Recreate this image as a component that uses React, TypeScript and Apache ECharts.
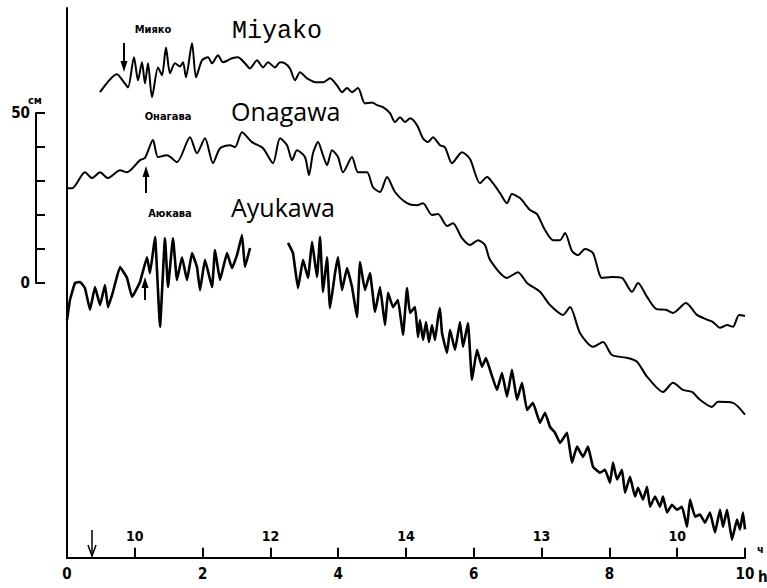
import React, { useEffect, useRef } from "react";
import * as echarts from "echarts";

// hours since start, sea level in cm (relative to the 50 cm scale bar)
const miyako: [number, number][] = [
  [0.487, 56.2], [0.737, 61.5], [0.841, 59.1], [0.9, 57.6], [0.988, 66.5], [1.047, 59.7], [1.106, 65.0],
  [1.15, 58.8], [1.195, 64.7], [1.254, 54.7], [1.342, 63.5], [1.401, 61.2], [1.46, 69.4], [1.519, 61.8],
  [1.593, 64.7], [1.667, 63.8], [1.711, 65.0], [1.755, 60.6], [1.844, 70.6], [1.903, 60.6], [1.991, 65.6],
  [2.08, 66.5], [2.139, 64.7], [2.227, 67.1], [2.301, 65.0], [2.375, 65.6], [2.434, 66.2], [2.522, 66.5],
  [2.625, 64.7], [2.699, 63.2], [2.802, 65.6], [2.891, 63.5], [2.965, 65.0], [3.068, 63.5], [3.142, 65.0],
  [3.215, 64.7], [3.289, 63.2], [3.363, 59.7], [3.437, 62.1], [3.54, 60.3], [3.687, 59.1], [3.776, 59.1],
  [3.879, 60.3], [3.982, 58.2], [4.056, 56.2], [4.13, 57.4], [4.204, 56.2], [4.292, 57.4], [4.395, 52.9],
  [4.499, 53.2], [4.572, 52.4], [4.661, 51.8], [4.764, 50.0], [4.838, 47.4], [4.912, 48.8], [4.985, 47.4],
  [5.059, 48.5], [5.162, 46.5], [5.251, 42.6], [5.324, 41.5], [5.398, 42.9], [5.501, 40.6], [5.575, 40.0],
  [5.678, 35.3], [5.826, 38.5], [5.944, 36.5], [6.091, 29.4], [6.195, 31.2], [6.283, 29.4], [6.386, 26.5],
  [6.49, 23.5], [6.563, 26.2], [6.681, 25.0], [6.829, 21.5], [6.932, 20.3], [7.05, 15.6], [7.168, 12.6],
  [7.271, 12.6], [7.345, 14.7], [7.448, 9.4], [7.537, 8.2], [7.64, 10.0], [7.758, 8.8], [7.891, 1.5],
  [8.038, 1.8], [8.186, 1.5], [8.333, -2.6], [8.422, 0], [8.555, -4.1], [8.687, -7.6], [8.835, -7.9],
  [8.938, -8.8], [9.13, -5.9], [9.292, -9.4], [9.454, -10.9], [9.528, -11.5], [9.631, -13.2], [9.735, -12.4],
  [9.823, -12.9], [9.912, -9.4], [10.0, -9.7],
];

const onagawa: [number, number][] = [
  [0.0, 27.9], [0.074, 27.9], [0.265, 32.6], [0.369, 30.9], [0.487, 32.6], [0.605, 30.9], [0.782, 33.2],
  [0.885, 32.6], [1.077, 36.2], [1.15, 36.8], [1.268, 42.1], [1.342, 37.1], [1.475, 37.6], [1.622, 35.6],
  [1.814, 42.9], [1.917, 38.2], [2.035, 42.6], [2.153, 35.3], [2.257, 39.7], [2.404, 40.6], [2.478, 40.0],
  [2.581, 44.4], [2.729, 41.5], [2.891, 39.7], [3.038, 35.3], [3.142, 42.6], [3.245, 40.6], [3.319, 36.2],
  [3.392, 39.1], [3.51, 37.1], [3.569, 31.8], [3.628, 38.2], [3.702, 41.5], [3.776, 37.6], [3.835, 34.7],
  [3.909, 39.1], [3.997, 37.1], [4.071, 32.6], [4.204, 37.1], [4.292, 32.6], [4.425, 32.6], [4.513, 28.2],
  [4.617, 26.8], [4.72, 31.2], [4.838, 26.8], [5.015, 23.5], [5.162, 22.9], [5.251, 23.5], [5.383, 20.0],
  [5.472, 20.3], [5.605, 16.8], [5.693, 17.6], [5.826, 13.2], [5.944, 11.2], [6.062, 12.6], [6.165, 11.2],
  [6.239, 6.8], [6.49, 1.5], [6.652, 3.2], [6.785, 0], [6.976, -2.6], [7.124, -6.5], [7.316, -9.4],
  [7.419, -7.1], [7.566, -14.7], [7.758, -18.8], [7.906, -17.4], [8.038, -21.2], [8.274, -22.1],
  [8.407, -23.2], [8.555, -27.6], [8.791, -32.1], [8.938, -29.4], [9.086, -31.5], [9.218, -32.1],
  [9.336, -34.4], [9.513, -36.5], [9.602, -35.0], [9.823, -35.3], [10.0, -38.8],
];

const ayukawaA: [number, number][] = [
  [0.0, -10.9], [0.044, -5.0], [0.118, 0], [0.192, 0.3], [0.265, -1.5], [0.339, -7.9], [0.413, -1.2],
  [0.487, -6.5], [0.56, -0.6], [0.605, -7.1], [0.678, -2.6], [0.782, 4.7], [0.885, 1.5], [0.959, -4.1],
  [1.077, 0.3], [1.18, 7.6], [1.224, 2.9], [1.298, 13.5], [1.372, -12.9], [1.445, 13.2], [1.49, -1.2],
  [1.563, 13.2], [1.622, 0.9], [1.696, 7.6], [1.77, 0.9], [1.844, 8.8], [1.917, 4.7], [1.962, -2.1],
  [2.035, 6.8], [2.139, -1.2], [2.183, 9.7], [2.257, 0.9], [2.36, 8.8], [2.434, 4.4], [2.507, 8.2],
  [2.581, 14.1], [2.625, 4.7], [2.699, 10.3],
];

const ayukawaB: [number, number][] = [
  [3.26, 11.8], [3.333, 8.8], [3.407, -1.5], [3.481, 6.8], [3.555, 1.5], [3.614, 12.1], [3.687, 1.8],
  [3.732, 13.5], [3.776, -2.6], [3.835, 7.6], [3.879, -7.4], [3.953, 2.9], [3.997, 7.6], [4.056, -2.1],
  [4.13, 4.4], [4.204, -1.2], [4.277, -10.0], [4.322, 6.2], [4.395, -2.1], [4.469, 2.9], [4.543, -8.5],
  [4.617, -1.2], [4.69, -12.4], [4.735, -2.9], [4.808, -7.1], [4.882, -5.0], [4.956, -15.3], [5.015, -1.5],
  [5.059, -8.8], [5.133, -7.1], [5.177, -15.9], [5.206, -10.9], [5.251, -16.8], [5.295, -11.5],
  [5.339, -17.4], [5.383, -12.4], [5.428, -16.8], [5.472, -10.3], [5.501, -7.4], [5.531, -14.7],
  [5.605, -20.6], [5.649, -13.8], [5.723, -19.7], [5.796, -11.5], [5.841, -18.8], [5.914, -11.8],
  [5.973, -28.5], [6.047, -19.7], [6.121, -24.7], [6.18, -22.1], [6.239, -25.6], [6.342, -31.5],
  [6.416, -26.5], [6.49, -33.5], [6.563, -25.6], [6.637, -34.4], [6.711, -29.4], [6.785, -37.4],
  [6.873, -35.3], [6.976, -41.2], [7.05, -38.2], [7.124, -42.4], [7.198, -44.1], [7.271, -47.1],
  [7.375, -44.1], [7.448, -52.9], [7.522, -48.2], [7.611, -51.2], [7.684, -48.2], [7.758, -54.1],
  [7.861, -55.9], [7.935, -55.0], [8.009, -58.8], [8.053, -52.9], [8.112, -57.9], [8.186, -55.0],
  [8.23, -61.8], [8.304, -57.1], [8.378, -62.9], [8.422, -60.3], [8.496, -63.8], [8.555, -60.0],
  [8.599, -65.9], [8.673, -62.9], [8.746, -65.9], [8.791, -62.9], [8.85, -67.6], [8.923, -65.3],
  [8.997, -66.8], [9.071, -65.9], [9.145, -71.8], [9.189, -63.8], [9.263, -68.8], [9.336, -68.2],
  [9.41, -70.6], [9.484, -67.6], [9.558, -73.5], [9.631, -66.8], [9.676, -71.8], [9.735, -66.8],
  [9.808, -75.6], [9.882, -69.7], [9.926, -72.6], [9.971, -67.6], [10.0, -72.6],
];

// hour ticks on the time axis and clock-hour labels above the odd ones
const tickHours: number[] = [1, 2, 3, 4, 5, 6, 7, 8, 9, 10];
const tickTop = -78.0;
const hourMarks: number[] = [1, 3, 5, 7, 9];
const hourLabels: string[] = ["10", "12", "14", "13", "10"];
const hourLabelLevel = -74.5;
const Y_MIN = -81;

const COND = "'DejaVu Sans Condensed', 'DejaVu Sans', sans-serif";

export default function App() {
  const ref = useRef<HTMLDivElement>(null);
  useEffect(() => {
    if (!ref.current) return;
    const chart = echarts.init(ref.current, undefined, { renderer: "svg" });
    const lineStyle = (w: number) => ({ color: "#000", width: w });
    const txt = (x: number, y: number, text: string, font: string, size: number, weight: string, align = "left") => ({
      type: "text",
      x,
      y,
      style: { text, fill: "#000", font: `${weight} ${size}px ${font}`, textAlign: align, textVerticalAlign: "middle" },
      silent: true,
    });
    const arrow = (x: number, y1: number, y2: number, up: boolean) => {
      const tip = up ? y1 : y2;
      const base = up ? y1 + 11 : y2 - 11;
      return [
        { type: "line", shape: { x1: x, y1: up ? base : y1, x2: x, y2: up ? y2 : base }, style: { stroke: "#000", lineWidth: 2 } },
        { type: "polygon", shape: { points: [[x - 3.5, base], [x + 3.5, base], [x, tip]] }, style: { fill: "#000" } },
      ];
    };
    chart.setOption({
      animation: false,
      backgroundColor: "#fff",
      grid: [
        { left: 67, right: 22, top: 8, bottom: 30 },
        { left: 36, top: 113, height: 170, width: 10 },
      ],
      xAxis: [
        {
          type: "value",
          gridIndex: 0,
          min: 0,
          max: 10,
          interval: 1,
          axisLine: { show: true, onZero: false, lineStyle: { color: "#000", width: 2 } },
          axisTick: { show: true, inside: true, length: 9, lineStyle: { color: "#000", width: 2 } },
          axisLabel: {
            color: "#000",
            fontFamily: COND,
            fontWeight: "bold",
            fontSize: 15,
            margin: 8,
            formatter: (v: number) => (v % 2 === 0 ? String(v) : ""),
          },
          splitLine: { show: false },
        },
        { type: "value", gridIndex: 1, show: false, min: 0, max: 1 },
      ],
      yAxis: [
        {
          type: "value",
          gridIndex: 0,
          min: Y_MIN,
          max: 81,
          axisLine: { show: true, onZero: false, lineStyle: { color: "#000", width: 2 } },
          axisTick: { show: false },
          axisLabel: { show: false },
          splitLine: { show: false },
        },
        {
          type: "value",
          gridIndex: 1,
          min: 0,
          max: 50,
          interval: 10,
          name: "см",
          nameLocation: "end",
          nameGap: 5,
          nameTextStyle: { color: "#000", fontFamily: COND, fontWeight: "bold", fontSize: 11, align: "left", padding: [0, 0, 0, -8] },
          axisLine: { show: true, onZero: false, lineStyle: { color: "#000", width: 2 } },
          axisTick: { show: true, inside: true, length: 9, lineStyle: { color: "#000", width: 2 } },
          axisLabel: {
            color: "#000",
            fontFamily: COND,
            fontWeight: "bold",
            fontSize: 15,
            margin: 6,
            formatter: (v: number) => (v === 0 || v === 50 ? String(v) : ""),
          },
          splitLine: { show: false },
        },
      ],
      series: [
        { type: "line", name: "Miyako", data: miyako, showSymbol: false, smooth: 0.25, lineStyle: lineStyle(2), silent: true },
        { type: "line", name: "Onagawa", data: onagawa, showSymbol: false, smooth: 0.25, lineStyle: lineStyle(2), silent: true },
        { type: "line", name: "Ayukawa", data: ayukawaA, showSymbol: false, smooth: 0.1, lineStyle: lineStyle(2.6), silent: true },
        {
          type: "line",
          name: "Ayukawa2",
          data: ayukawaB,
          showSymbol: false,
          smooth: 0.1,
          lineStyle: lineStyle(2.6),
          silent: true,
          markLine: {
            silent: true,
            symbol: ["none", "none"],
            animation: false,
            label: { show: false },
            lineStyle: { color: "#000", width: 2, type: "solid" },
            emphasis: { disabled: true },
            data: tickHours.map((h) => [{ coord: [h, Y_MIN] }, { coord: [h, tickTop] }]),
          },
        },
        {
          type: "scatter",
          name: "clock",
          data: hourMarks.map((h) => [h, hourLabelLevel]),
          symbolSize: 0,
          silent: true,
          itemStyle: { opacity: 1, color: "#000" },
          label: {
            show: true,
            position: "inside",
            color: "#000",
            opacity: 1,
            textBorderWidth: 0,
            fontFamily: COND,
            fontWeight: "bold",
            fontSize: 14,
            formatter: (p: any) => hourLabels[p.dataIndex],
          },
        },
      ],
      graphic: [
        txt(232, 31, "Miyako", "'Liberation Mono', monospace", 25, "normal"),
        txt(231, 111, "Onagawa", "'Open Sans', sans-serif", 25, "normal"),
        txt(231, 207, "Ayukawa", "'Open Sans', sans-serif", 25, "normal"),
        txt(153, 29, "Мияко", COND, 11, "bold", "center"),
        txt(168, 116, "Онагава", COND, 11, "bold", "center"),
        txt(170, 213, "Аюкава", COND, 11, "bold", "center"),
        txt(758, 577, "h", COND, 15, "bold"),
        txt(757, 549, "ч", COND, 11, "bold"),
        ...arrow(124, 43, 72, false),
        ...arrow(146, 166, 193, true),
        ...arrow(145, 277, 300, true),
        { type: "line", shape: { x1: 92, y1: 530, x2: 92, y2: 556 }, style: { stroke: "#000", lineWidth: 1.5 } },
        { type: "polyline", shape: { points: [[88, 545], [92, 556], [96, 545]] }, style: { stroke: "#000", lineWidth: 1.5, fill: null } },
      ],
    });
    return () => chart.dispose();
  }, []);
  return <div ref={ref} style={{ position: "absolute", left: 0, top: 0, width: 767, height: 588 }} />;
}
